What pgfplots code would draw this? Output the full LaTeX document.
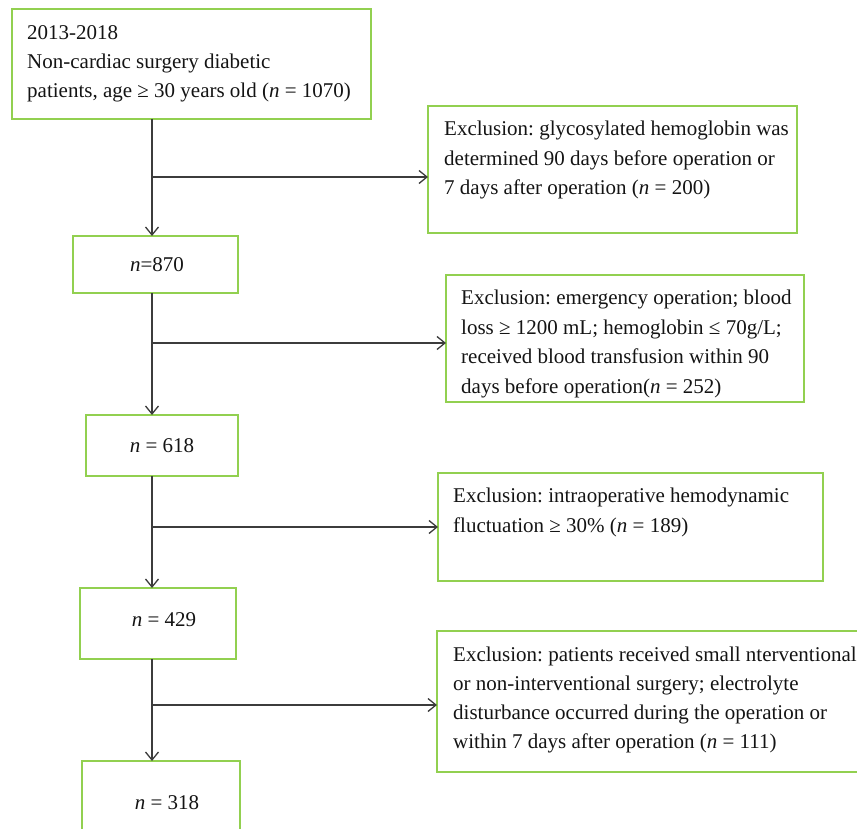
\documentclass[border=0pt]{standalone}
\usepackage{fontspec}
\setmainfont{Liberation Serif}
\usepackage{pgfplots}
\pgfplotsset{compat=1.18}
\usetikzlibrary{arrows.meta}
\definecolor{boxgreen}{RGB}{146,208,80}
\definecolor{arrowgray}{RGB}{60,60,60}
\begin{document}
\frenchspacing
\begin{tikzpicture}
\begin{axis}[
  width=857pt, height=829pt, scale only axis,
  xmin=0, xmax=857, ymin=0, ymax=829, y dir=reverse,
  hide axis, clip=false,
  every axis plot/.append style={no marks},
]
% boxes
\addplot[boxgreen, line width=1.6pt, line join=miter] coordinates {(12,9)(371,9)(371,119)(12,119)(12,9)(371,9)};
\addplot[boxgreen, line width=1.6pt, line join=miter] coordinates {(428,106)(797,106)(797,233)(428,233)(428,106)(797,106)};
\addplot[boxgreen, line width=1.6pt, line join=miter] coordinates {(73,236)(238,236)(238,293)(73,293)(73,236)(238,236)};
\addplot[boxgreen, line width=1.6pt, line join=miter] coordinates {(446,275)(804,275)(804,402)(446,402)(446,275)(804,275)};
\addplot[boxgreen, line width=1.6pt, line join=miter] coordinates {(86,415)(238,415)(238,476)(86,476)(86,415)(238,415)};
\addplot[boxgreen, line width=1.6pt, line join=miter] coordinates {(438,473)(823,473)(823,581)(438,581)(438,473)(823,473)};
\addplot[boxgreen, line width=1.6pt, line join=miter] coordinates {(80,588)(236,588)(236,659)(80,659)(80,588)(236,588)};
\addplot[boxgreen, line width=1.6pt, line join=miter] coordinates {(880,631)(437,631)(437,772)(880,772)};
\addplot[boxgreen, line width=1.6pt, line join=miter] coordinates {(82,845)(82,761)(240,761)(240,845)};
% arrows
\pgfplotsset{arr/.style={arrowgray, line width=1.3pt, -{Straight Barb[length=8pt,width=13pt,line width=1.3pt]}}}
\addplot[arr] coordinates {(152,119)(152,236)};
\addplot[arr] coordinates {(152,177)(428,177)};
\addplot[arr] coordinates {(152,293)(152,415)};
\addplot[arr] coordinates {(152,343)(446,343)};
\addplot[arr] coordinates {(152,476)(152,588)};
\addplot[arr] coordinates {(152,527)(438,527)};
\addplot[arr] coordinates {(152,659)(152,761)};
\addplot[arr] coordinates {(152,705)(437,705)};
% texts
\tikzset{t/.style={anchor=base west, inner sep=0pt, font=\fontsize{21}{29}\selectfont, text=black!92}}
\tikzset{c/.style={anchor=base, inner sep=0pt, font=\fontsize{21}{29}\selectfont, text=black!92}}
\node[t] at (axis cs:27,40) {2013-2018};
\node[t] at (axis cs:27,69) {Non-cardiac surgery diabetic};
\node[t] at (axis cs:27,98) {patients, age ≥ 30 years old (\textit{n} = 1070)};
\node[t] at (axis cs:444,136) {Exclusion: glycosylated hemoglobin was};
\node[t] at (axis cs:444,166) {determined 90 days before operation or};
\node[t] at (axis cs:444,195) {7 days after operation (\textit{n} = 200)};
\node[c] at (axis cs:157,272) {\textit{n}=870};
\node[t] at (axis cs:461,304) {Exclusion: emergency operation; blood};
\node[t] at (axis cs:461,334) {loss ≥ 1200 mL; hemoglobin ≤ 70g/L;};
\node[t] at (axis cs:461,363) {received blood transfusion within 90};
\node[t] at (axis cs:461,393) {days before operation(\textit{n} = 252)};
\node[c] at (axis cs:162,452) {\textit{n} = 618};
\node[t] at (axis cs:453,502) {Exclusion: intraoperative hemodynamic};
\node[t] at (axis cs:453,532) {fluctuation ≥ 30\% (\textit{n} = 189)};
\node[c] at (axis cs:164,626) {\textit{n} = 429};
\node[t] at (axis cs:453,661) {Exclusion: patients received small nterventional};
\node[t] at (axis cs:453,690) {or non-interventional surgery; electrolyte};
\node[t] at (axis cs:453,719) {disturbance occurred during the operation or};
\node[t] at (axis cs:453,748) {within 7 days after operation (\textit{n} = 111)};
\node[c] at (axis cs:167,809) {\textit{n} = 318};
\end{axis}
\pgfresetboundingbox
\useasboundingbox (current axis.south west) rectangle (current axis.north east);
\end{tikzpicture}
\end{document}
